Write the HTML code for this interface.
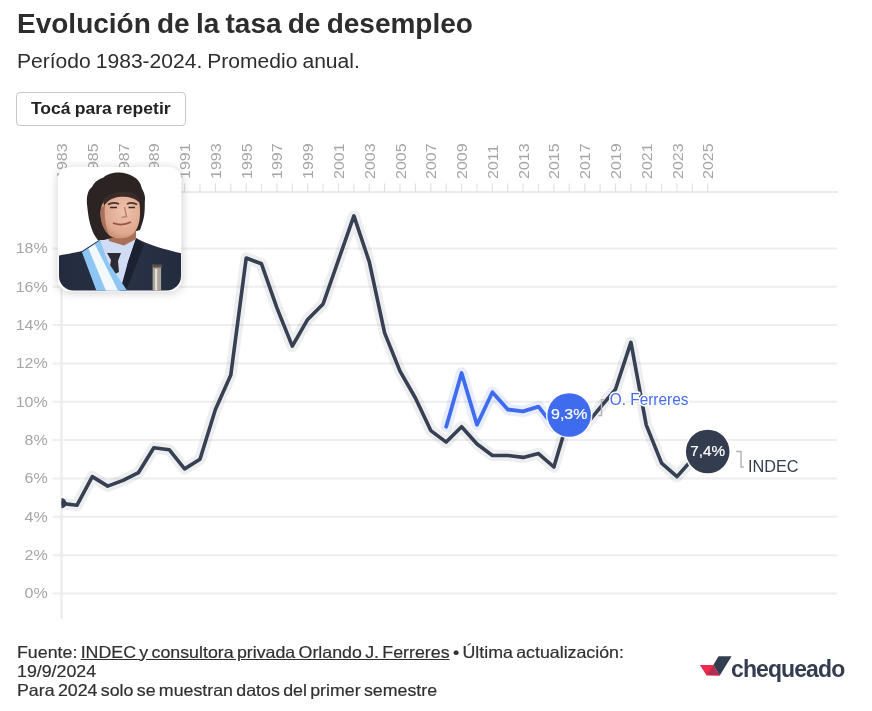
<!DOCTYPE html>
<html lang="es"><head><meta charset="utf-8"><title>Evolución de la tasa de desempleo</title>
<style>
html,body{margin:0;padding:0;background:#fff;}
body{width:872px;height:711px;position:relative;overflow:hidden;font-family:"Liberation Sans",Arial,sans-serif;color:#333;}
.title{position:absolute;left:17px;top:9px;font-size:27px;line-height:30px;font-weight:bold;color:#2d2d2d;white-space:nowrap;word-spacing:-1.5px;transform:scaleX(1.037);transform-origin:0 0;}
.sub{position:absolute;left:17px;top:49px;font-size:19.5px;line-height:24px;color:#2d2d2d;white-space:nowrap;word-spacing:-0.8px;transform:scaleX(1.08);transform-origin:0 0;}
.btn{position:absolute;left:16px;top:92px;width:168px;height:32px;border:1px solid #c8c8c8;border-radius:4px;background:#fff;font-size:16.5px;font-weight:bold;color:#222;text-align:center;line-height:30.8px;white-space:nowrap;}
.btn span{display:inline-block;word-spacing:-0.6px;transform:scaleX(1.0626);}
.foot{position:absolute;left:16.5px;top:642.5px;font-size:16.5px;line-height:19px;color:#303030;white-space:nowrap;word-spacing:-1.5px;-webkit-text-stroke:0.2px #303030;transform:scaleX(1.078);transform-origin:0 0;}
.foot u{text-decoration:underline;}
svg{position:absolute;left:0;top:0;}
.logo{position:absolute;left:731px;top:654.8px;font-size:23px;font-weight:bold;color:#333d4f;letter-spacing:-0.9px;line-height:28px;white-space:nowrap;}
</style></head><body>
<div class="title">Evolución de la tasa de desempleo</div>
<div class="sub">Período 1983-2024. Promedio anual.</div>
<div class="btn"><span>Tocá para repetir</span></div>
<svg width="872" height="711" viewBox="0 0 872 711" font-family="'Liberation Sans',Arial,sans-serif">
<defs>
<clipPath id="plot"><rect x="61.5" y="191" width="776" height="430"/></clipPath>
<clipPath id="ph"><rect x="59" y="167.5" width="122" height="123" rx="14.5" ry="14.5"/></clipPath>
<filter id="sh" x="-30%" y="-30%" width="160%" height="160%"><feGaussianBlur stdDeviation="5"/></filter>
<filter id="soft" x="-5%" y="-5%" width="110%" height="110%"><feGaussianBlur stdDeviation="0.55"/></filter>
<linearGradient id="suitg" x1="0" y1="0" x2="1" y2="0"><stop offset="0" stop-color="#222a3c"/><stop offset="0.55" stop-color="#2a3247"/><stop offset="1" stop-color="#222a3c"/></linearGradient>
<radialGradient id="faceg" cx="0.6" cy="0.4" r="0.7"><stop offset="0" stop-color="#f0c3ad"/><stop offset="0.7" stop-color="#dfa88f"/><stop offset="1" stop-color="#c08468"/></radialGradient>
</defs>
<g stroke="#eeeeee" stroke-width="2"><line x1="52.5" x2="837" y1="593.5" y2="593.5"/><line x1="52.5" x2="837" y1="555.2" y2="555.2"/><line x1="52.5" x2="837" y1="516.8" y2="516.8"/><line x1="52.5" x2="837" y1="478.5" y2="478.5"/><line x1="52.5" x2="837" y1="440.1" y2="440.1"/><line x1="52.5" x2="837" y1="401.8" y2="401.8"/><line x1="52.5" x2="837" y1="363.5" y2="363.5"/><line x1="52.5" x2="837" y1="325.1" y2="325.1"/><line x1="52.5" x2="837" y1="286.8" y2="286.8"/><line x1="52.5" x2="837" y1="248.4" y2="248.4"/></g>
<g stroke="#ebebeb" stroke-width="2.2"><line x1="61.5" x2="61.5" y1="191" y2="618.4"/><line x1="61.5" x2="838" y1="192" y2="192"/></g>
<g stroke="#e2e2e2" stroke-width="1.2"><line x1="61.5" x2="61.5" y1="183.5" y2="192"/><line x1="76.9" x2="76.9" y1="183.5" y2="192"/><line x1="92.3" x2="92.3" y1="183.5" y2="192"/><line x1="107.7" x2="107.7" y1="183.5" y2="192"/><line x1="123.1" x2="123.1" y1="183.5" y2="192"/><line x1="138.4" x2="138.4" y1="183.5" y2="192"/><line x1="153.8" x2="153.8" y1="183.5" y2="192"/><line x1="169.2" x2="169.2" y1="183.5" y2="192"/><line x1="184.6" x2="184.6" y1="183.5" y2="192"/><line x1="200.0" x2="200.0" y1="183.5" y2="192"/><line x1="215.4" x2="215.4" y1="183.5" y2="192"/><line x1="230.8" x2="230.8" y1="183.5" y2="192"/><line x1="246.2" x2="246.2" y1="183.5" y2="192"/><line x1="261.5" x2="261.5" y1="183.5" y2="192"/><line x1="276.9" x2="276.9" y1="183.5" y2="192"/><line x1="292.3" x2="292.3" y1="183.5" y2="192"/><line x1="307.7" x2="307.7" y1="183.5" y2="192"/><line x1="323.1" x2="323.1" y1="183.5" y2="192"/><line x1="338.5" x2="338.5" y1="183.5" y2="192"/><line x1="353.9" x2="353.9" y1="183.5" y2="192"/><line x1="369.3" x2="369.3" y1="183.5" y2="192"/><line x1="384.6" x2="384.6" y1="183.5" y2="192"/><line x1="400.0" x2="400.0" y1="183.5" y2="192"/><line x1="415.4" x2="415.4" y1="183.5" y2="192"/><line x1="430.8" x2="430.8" y1="183.5" y2="192"/><line x1="446.2" x2="446.2" y1="183.5" y2="192"/><line x1="461.6" x2="461.6" y1="183.5" y2="192"/><line x1="477.0" x2="477.0" y1="183.5" y2="192"/><line x1="492.4" x2="492.4" y1="183.5" y2="192"/><line x1="507.8" x2="507.8" y1="183.5" y2="192"/><line x1="523.1" x2="523.1" y1="183.5" y2="192"/><line x1="538.5" x2="538.5" y1="183.5" y2="192"/><line x1="553.9" x2="553.9" y1="183.5" y2="192"/><line x1="569.3" x2="569.3" y1="183.5" y2="192"/><line x1="584.7" x2="584.7" y1="183.5" y2="192"/><line x1="600.1" x2="600.1" y1="183.5" y2="192"/><line x1="615.5" x2="615.5" y1="183.5" y2="192"/><line x1="630.9" x2="630.9" y1="183.5" y2="192"/><line x1="646.2" x2="646.2" y1="183.5" y2="192"/><line x1="661.6" x2="661.6" y1="183.5" y2="192"/><line x1="677.0" x2="677.0" y1="183.5" y2="192"/><line x1="692.4" x2="692.4" y1="183.5" y2="192"/><line x1="707.8" x2="707.8" y1="183.5" y2="192"/></g>
<g font-size="15" fill="#a6a6a6"><text transform="translate(47.8,598.3) scale(1.07,1)" text-anchor="end">0%</text><text transform="translate(47.8,560.0) scale(1.07,1)" text-anchor="end">2%</text><text transform="translate(47.8,521.6) scale(1.07,1)" text-anchor="end">4%</text><text transform="translate(47.8,483.3) scale(1.07,1)" text-anchor="end">6%</text><text transform="translate(47.8,444.9) scale(1.07,1)" text-anchor="end">8%</text><text transform="translate(47.8,406.6) scale(1.07,1)" text-anchor="end">10%</text><text transform="translate(47.8,368.3) scale(1.07,1)" text-anchor="end">12%</text><text transform="translate(47.8,329.9) scale(1.07,1)" text-anchor="end">14%</text><text transform="translate(47.8,291.6) scale(1.07,1)" text-anchor="end">16%</text><text transform="translate(47.8,253.2) scale(1.07,1)" text-anchor="end">18%</text></g>
<g font-size="15" fill="#a6a6a6"><text transform="translate(67.0,178.9) rotate(-90) scale(1.065,1)">1983</text><text transform="translate(97.8,178.9) rotate(-90) scale(1.065,1)">1985</text><text transform="translate(128.6,178.9) rotate(-90) scale(1.065,1)">1987</text><text transform="translate(159.3,178.9) rotate(-90) scale(1.065,1)">1989</text><text transform="translate(190.1,178.9) rotate(-90) scale(1.065,1)">1991</text><text transform="translate(220.9,178.9) rotate(-90) scale(1.065,1)">1993</text><text transform="translate(251.7,178.9) rotate(-90) scale(1.065,1)">1995</text><text transform="translate(282.4,178.9) rotate(-90) scale(1.065,1)">1997</text><text transform="translate(313.2,178.9) rotate(-90) scale(1.065,1)">1999</text><text transform="translate(344.0,178.9) rotate(-90) scale(1.065,1)">2001</text><text transform="translate(374.8,178.9) rotate(-90) scale(1.065,1)">2003</text><text transform="translate(405.5,178.9) rotate(-90) scale(1.065,1)">2005</text><text transform="translate(436.3,178.9) rotate(-90) scale(1.065,1)">2007</text><text transform="translate(467.1,178.9) rotate(-90) scale(1.065,1)">2009</text><text transform="translate(497.9,178.9) rotate(-90) scale(1.065,1)">2011</text><text transform="translate(528.6,178.9) rotate(-90) scale(1.065,1)">2013</text><text transform="translate(559.4,178.9) rotate(-90) scale(1.065,1)">2015</text><text transform="translate(590.2,178.9) rotate(-90) scale(1.065,1)">2017</text><text transform="translate(621.0,178.9) rotate(-90) scale(1.065,1)">2019</text><text transform="translate(651.7,178.9) rotate(-90) scale(1.065,1)">2021</text><text transform="translate(682.5,178.9) rotate(-90) scale(1.065,1)">2023</text><text transform="translate(713.3,178.9) rotate(-90) scale(1.065,1)">2025</text></g>
<g clip-path="url(#plot)" fill="none" stroke-linejoin="round" stroke-linecap="round">
<path d="M61.5,503.4 L76.9,505.3 L92.3,476.6 L107.7,486.1 L123.1,480.4 L138.4,472.7 L153.8,447.8 L169.2,449.7 L184.6,468.9 L200.0,459.3 L215.4,409.5 L230.8,375.0 L246.2,258.0 L261.5,263.8 L276.9,307.9 L292.3,346.2 L307.7,319.4 L323.1,304.0 L338.5,259.9 L353.9,215.9 L369.3,261.9 L384.6,332.8 L400.0,371.1 L415.4,398.0 L430.8,430.6 L446.2,442.1 L461.6,426.7 L477.0,444.0 L492.4,455.5 L507.8,455.5 L523.1,457.4 L538.5,453.6 L553.9,467.0 L569.3,415.2 L584.7,426.3 L600.1,407.6 L615.5,389.3 L630.9,342.4 L646.2,424.8 L661.6,463.1 L677.0,476.6 L699.0,451.8" stroke="#333d4f" stroke-opacity="0.085" stroke-width="11.5"/>
<path d="M446.2,426.7 L461.6,373.0 L477.0,424.8 L492.4,392.2 L507.8,409.5 L523.1,411.4 L538.5,406.6 L553.9,426.7 L569.3,415.2" stroke="#3f6bee" stroke-opacity="0.12" stroke-width="11.5"/>
<path d="M61.5,503.4 L76.9,505.3 L92.3,476.6 L107.7,486.1 L123.1,480.4 L138.4,472.7 L153.8,447.8 L169.2,449.7 L184.6,468.9 L200.0,459.3 L215.4,409.5 L230.8,375.0 L246.2,258.0 L261.5,263.8 L276.9,307.9 L292.3,346.2 L307.7,319.4 L323.1,304.0 L338.5,259.9 L353.9,215.9 L369.3,261.9 L384.6,332.8 L400.0,371.1 L415.4,398.0 L430.8,430.6 L446.2,442.1 L461.6,426.7 L477.0,444.0 L492.4,455.5 L507.8,455.5 L523.1,457.4 L538.5,453.6 L553.9,467.0 L569.3,415.2 L584.7,426.3 L600.1,407.6 L615.5,389.3 L630.9,342.4 L646.2,424.8 L661.6,463.1 L677.0,476.6 L699.0,451.8" stroke="#364052" stroke-width="3.6"/>
<path d="M446.2,426.7 L461.6,373.0 L477.0,424.8 L492.4,392.2 L507.8,409.5 L523.1,411.4 L538.5,406.6 L553.9,426.7 L569.3,415.2" stroke="#3f6bee" stroke-width="3.8"/>
<circle cx="61.5" cy="503.3" r="5" fill="#333d4f" stroke="none"/>
</g>
<!-- end circles -->
<circle cx="569.2" cy="415" r="23.3" fill="#fff" fill-opacity="0.9"/>
<circle cx="569.2" cy="415" r="21.8" fill="#3f6bee"/>
<text transform="translate(569.2,419.3) scale(1.065,1)" font-size="15" fill="#fff" stroke="#fff" stroke-width="0.2" text-anchor="middle">9,3%</text>
<circle cx="707.7" cy="451.5" r="23.3" fill="#fff" fill-opacity="0.9"/>
<circle cx="707.7" cy="451.5" r="21.8" fill="#333d4f"/>
<text transform="translate(707.7,455.6) scale(1.02,1)" font-size="15" fill="#fff" stroke="#fff" stroke-width="0.2" text-anchor="middle">7,4%</text>
<!-- connectors -->
<path d="M736.2,451.5 H741 V467 H743.8" fill="none" stroke="#b2b2b2" stroke-width="1.4"/>
<path d="M598.2,415.6 H601.5 V399.6 H604.4" fill="none" stroke="#b2b2b2" stroke-width="1.4"/>
<text x="748" y="472" font-size="15.9" fill="#333d4f" stroke="#fff" stroke-width="3" stroke-linejoin="round" paint-order="stroke" textLength="50.6" lengthAdjust="spacingAndGlyphs">INDEC</text>
<text x="609.8" y="404.6" font-size="15.8" fill="#446cf2" stroke="#fff" stroke-width="3" stroke-linejoin="round" paint-order="stroke" textLength="78.6" lengthAdjust="spacingAndGlyphs">O. Ferreres</text>
<!-- portrait -->
<rect x="58" y="168.5" width="124" height="124" rx="12" fill="#000" fill-opacity="0.2" filter="url(#sh)"/>
<rect x="57.8" y="167" width="123.6" height="124.4" rx="12" fill="#fff"/>
<g clip-path="url(#ph)">

<!-- suit -->
<path d="M52,257 C64,254 76,253 82,251 L99,240 L118,252 L136,238 C150,246 168,250 188,255 L188,296 L52,296 Z" fill="url(#suitg)"/>
<!-- shirt -->
<path d="M100,240 L112,232 L134,236 L136.5,238.5 L128,262 L122,291 L110,291 L104,262 Z" fill="#cfdcf4"/>
<!-- lapel right shade -->
<path d="M136,238 L144,245 L126,291 L120,291 L128,262 Z" fill="#1b2131"/>
<!-- tie -->
<path d="M107,253 L121,253 L118,261 L119,272 L115,274 L110,266 L111,260 Z" fill="#2a2b33"/>
<!-- sash -->
<path d="M82,252.3 L100.1,240.2 L107.7,261.5 L127.4,291 L96.5,291 Z" fill="#8ec6f3"/>
<path d="M88.5,248.6 L94.9,244.2 L118.2,291 L106.1,291 Z" fill="#f3f8fd"/>
<!-- baton -->
<rect x="152.6" y="265" width="8.5" height="30" fill="#aaa39a"/>
<rect x="152" y="264.5" width="10" height="3" fill="#5e514a"/>
<rect x="155" y="269" width="2.2" height="26" fill="#e4e0d9"/>
<!-- neck -->
<path d="M106,226 L136,226 L136,239 L124,245.5 L109,241 Z" fill="#a87058"/>
<!-- hair -->
<path d="M87.2,206 C86,196 88,190 92,187 C95,181 99,179 103.5,177.4 C110,172 124,170 134.8,177.4 C140,181 141,185 142,188.8 C145,194 145.5,198 144.8,202 C145,212 144,219 142,224 L140,230 L104,240 L97.8,240 C95,236 93,233 92.1,230 C89,222 88,214 87.2,206 Z" fill="#2c2422"/>
<!-- face -->
<path d="M101,208 C103,198 112,193 124,193 C134,193 139.5,197 139.8,206 C140.5,216 140,226 134,233 C129,239 116,240 110,236 C104,231 99,220 101,208 Z" fill="url(#faceg)"/>
<path d="M101,208 C99,216 102,228 109,235 C105,225 104,215 105,205 Z" fill="#a8705a"/>
<path d="M103,200 C108,194 118,190 128,192 C134,192 139,196 140,203 C134,197 126,196 118,197 C112,198 107,201 104,206 Z" fill="#3a2c28"/>
<!-- brows/eyes/mouth -->
<path d="M108,204.5 Q113,201.5 119,204" stroke="#4a342c" stroke-width="1.8" fill="none"/>
<path d="M127,204 Q132,201.5 137,204.5" stroke="#4a342c" stroke-width="1.8" fill="none"/>
<path d="M110,207.5 L117,207.5 M128.5,207.5 L135,207.5" stroke="#3a2a26" stroke-width="1.5"/>
<path d="M113,223 Q122,226.5 131,222" stroke="#9c5148" stroke-width="1.7" fill="none"/>
<path d="M124.5,207 L126.5,216.5 L121.5,217.5" stroke="#c08870" stroke-width="1.6" fill="none"/>
</g></g>
<!-- logo mark -->
<polygon points="699.9,665 713.3,665 719.8,675.6 706.6,675.6" fill="#f2294f"/>
<polygon points="712.9,665.6 719.8,675.6 707.3,675" fill="#b52f50"/>
<polygon points="718.5,656.2 731.6,656.2 719.8,675.6 713.3,665" fill="#333d50"/>
</svg>
<div class="foot">Fuente: <u>INDEC y consultora privada Orlando J. Ferreres</u> • Última actualización:<br>19/9/2024<br>Para 2024 solo se muestran datos del primer semestre</div>
<div class="logo">chequeado</div>
</body></html>
